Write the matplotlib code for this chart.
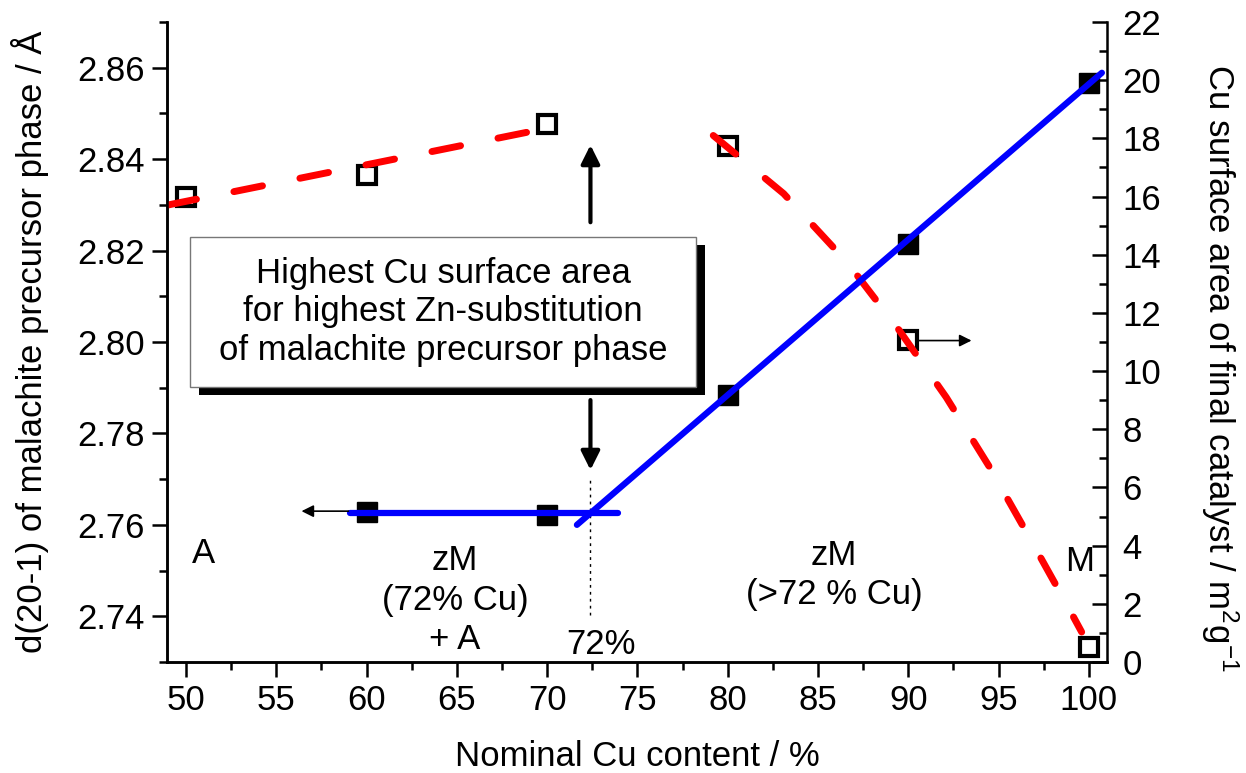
# d(20-1) spacing and Cu surface area vs nominal Cu content
import matplotlib
matplotlib.use("Agg")
import matplotlib.pyplot as plt
from matplotlib.patches import Rectangle
from matplotlib.ticker import MultipleLocator, FormatStrFormatter

plt.rcParams['font.family'] = ['Liberation Sans', 'DejaVu Sans']
plt.rcParams['mathtext.fontset'] = 'custom'
plt.rcParams['mathtext.rm'] = 'Liberation Sans'
plt.rcParams['mathtext.it'] = 'Liberation Sans'
plt.rcParams['font.size'] = 25

# filled squares -> left axis (d spacing / A)
d_x = [60, 70, 80, 90, 100]
d_val = [2.7629, 2.7621, 2.7884, 2.8214, 2.8567]

# open squares -> right axis (Cu surface area / m2 g-1)
sa_x = [50, 60, 70, 80, 90, 100]
sa_val = [15.98, 16.74, 18.49, 17.74, 11.07, 0.52]

# guide lines
red1_x = [49.0, 70.0]
red1_y = [15.71, 18.35]
red2_x = [79.2, 83.1, 86.6, 89.5, 92.1, 94.5, 96.6, 98.7, 99.6]
red2_y = [18.1, 16.1, 13.75, 11.4, 9.1, 6.7, 4.4, 2.06, 1.03]
blue_flat_x = [59.1, 73.9]
blue_flat_y = [2.7625, 2.7625]
blue_rise_x = [71.65, 100.72]
blue_rise_y = [2.760, 2.8589]

fig = plt.figure(figsize=(12.46, 7.73), dpi=100)
ax = fig.add_axes([0.134, 0.1436, 0.7544, 0.8279])
ax2 = ax.twinx()
ax.set_zorder(ax2.get_zorder() + 1)
ax.patch.set_visible(False)

# right axis: surface area
ax2.plot(sa_x, sa_val, 's', ms=12.5, mfc='white', mec='black', mew=3, zorder=2)
for xs, ys in [(red1_x, red1_y), (red2_x, red2_y)]:
    ax2.plot(xs, ys, color='#ff0000', lw=5, ls=(0, (4.2, 5.5)),
             dash_capstyle='round', solid_joinstyle='round', zorder=3)
ax2.annotate('', xy=(93.5, 11.05), xytext=(90.6, 11.05),
             arrowprops=dict(arrowstyle='-|>', lw=1.2, color='black',
                             mutation_scale=18, shrinkA=0, shrinkB=0))

# left axis: d spacing
ax.plot(d_x, d_val, 's', ms=14, color='black', zorder=2)
ax.plot(blue_flat_x, blue_flat_y, color='#0000ff', lw=4.5,
        solid_capstyle='round', zorder=3)
ax.plot(blue_rise_x, blue_rise_y, color='#0000ff', lw=4.5,
        solid_capstyle='round', zorder=3)
ax.annotate('', xy=(56.4, 2.7630), xytext=(59.0, 2.7630),
            arrowprops=dict(arrowstyle='-|>', lw=1.2, color='black',
                            mutation_scale=18, shrinkA=0, shrinkB=0))

# 72 % marker
ax.plot([72.4, 72.4], [2.7403, 2.7702], color='black', lw=1, ls=(0, (2, 3)))
ax.annotate('', xy=(72.4, 2.8431), xytext=(72.4, 2.8262),
            arrowprops=dict(arrowstyle='-|>', lw=3, color='black',
                            mutation_scale=28, shrinkA=0, shrinkB=0))
ax.annotate('', xy=(72.4, 2.7720), xytext=(72.4, 2.7873),
            arrowprops=dict(arrowstyle='-|>', lw=3, color='black',
                            mutation_scale=28, shrinkA=0, shrinkB=0))

# boxed note with drop shadow
ax.add_patch(Rectangle((0.024 + 0.0096, 0.4297 - 0.0125), 0.5393, 0.2343,
                       transform=ax.transAxes, facecolor='black', edgecolor='none', zorder=4))
ax.add_patch(Rectangle((0.024, 0.4297), 0.5393, 0.2343, transform=ax.transAxes,
                       facecolor='white', edgecolor='#777777', lw=1, zorder=5))
ax.text(0.2936, 0.547, 'Highest Cu surface area\nfor highest Zn-substitution\nof malachite precursor phase',
        transform=ax.transAxes, ha='center', va='center', linespacing=1.2, zorder=6)

# region labels
ax.text(50.95, 2.7538, 'A', ha='center', va='center')
ax.text(64.9, 2.7435, 'zM\n(72% Cu)\n+ A', ha='center', va='center', linespacing=1.25)
ax.text(85.9, 2.7490, 'zM\n(>72 % Cu)', ha='center', va='center', linespacing=1.25)
ax.text(99.5, 2.7520, 'M', ha='center', va='center')
ax.text(73.0, 2.7339, '72%', ha='center', va='center')

# axes, ticks, labels
ax.set_xlim(48.95, 101.0)
ax.set_ylim(2.73, 2.87)
ax2.set_ylim(0, 22)
ax.xaxis.set_major_locator(MultipleLocator(5))
ax.xaxis.set_minor_locator(MultipleLocator(2.5))
ax.yaxis.set_major_locator(MultipleLocator(0.02))
ax.yaxis.set_minor_locator(MultipleLocator(0.01))
ax.yaxis.set_major_formatter(FormatStrFormatter('%.2f'))
ax2.yaxis.set_major_locator(MultipleLocator(2))
ax2.yaxis.set_minor_locator(MultipleLocator(1))

for a in (ax, ax2):
    a.spines['top'].set_visible(False)
    for s in a.spines.values():
        s.set_linewidth(1.8)
ax.spines['right'].set_visible(False)
ax.tick_params(which='both', direction='out', width=1.8, top=False, right=False)
ax.tick_params(which='major', length=11, pad=5)
ax.tick_params(which='minor', length=6)
ax2.tick_params(which='both', direction='in', width=1.8)
ax2.tick_params(which='major', length=11, pad=11)
ax2.tick_params(which='minor', length=6)

ax.set_xlabel('Nominal Cu content / %', va='center')
ax.xaxis.set_label_coords(0.5, -0.147)
ax.set_ylabel('d(20-1) of malachite precursor phase / Å', va='center')
ax.yaxis.set_label_coords(-0.146, 0.5)
ax2.set_ylabel('Cu surface area of final catalyst / m$^{2}$g$^{-1}$', rotation=270, va='center')
ax2.yaxis.set_label_coords(1.12, 0.46)

fig.savefig('out.png', dpi=100)
